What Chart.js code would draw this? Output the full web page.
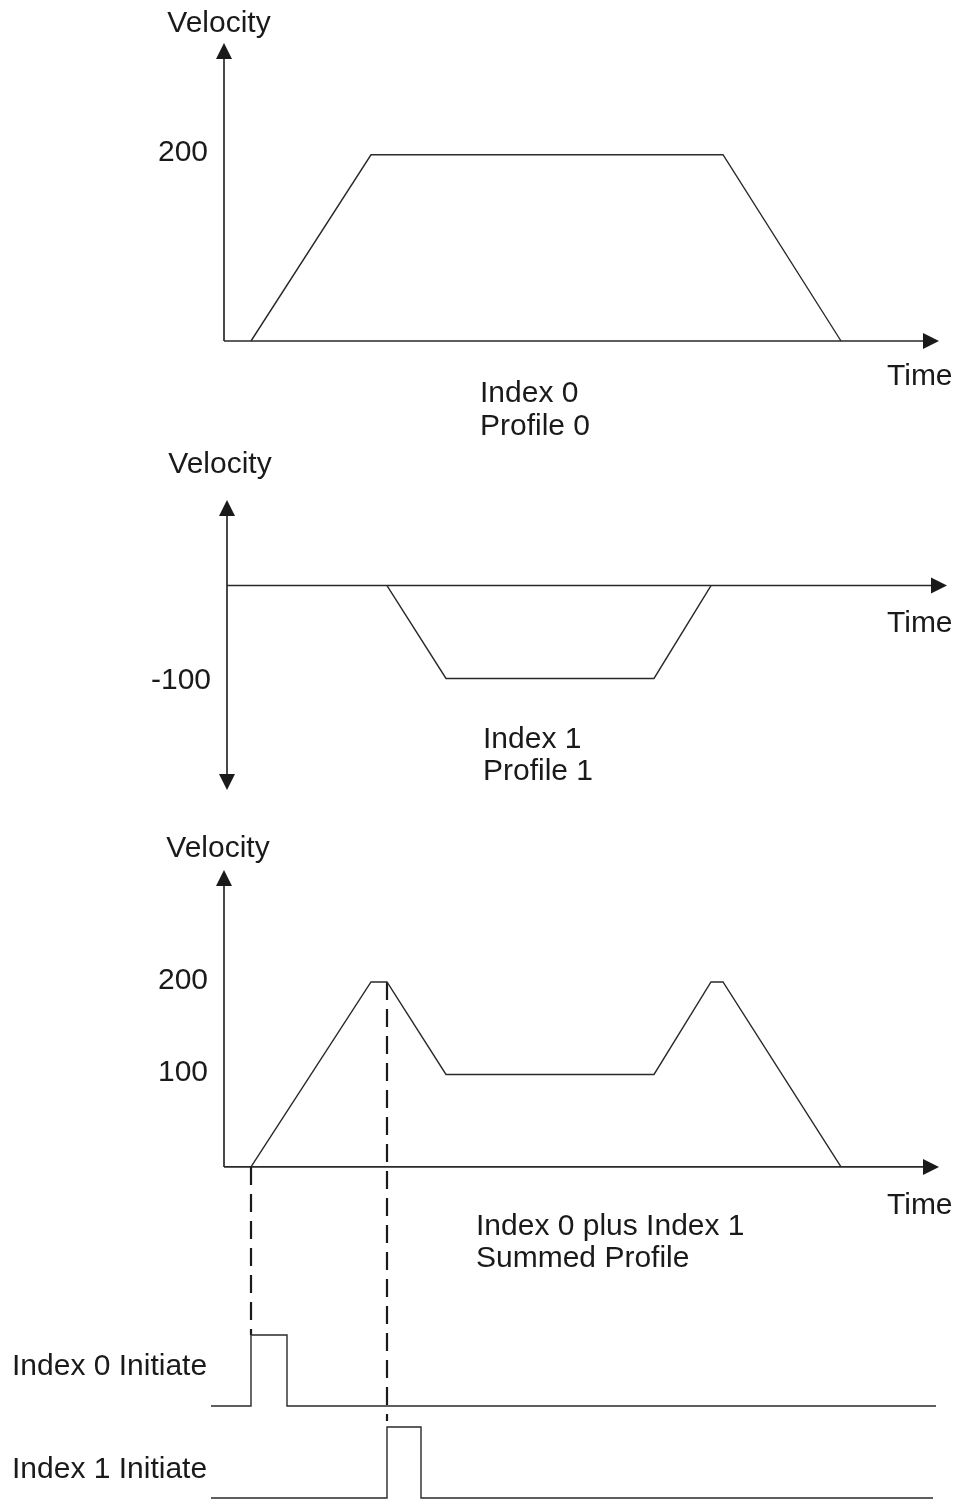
<!DOCTYPE html>
<html>
<head>
<meta charset="utf-8">
<title>Index profiles</title>
<script src="https://cdn.jsdelivr.net/npm/chart.js"></script>
<style>
  html, body { margin: 0; padding: 0; background: #fff; }
  body { position: relative; width: 960px; height: 1501px; overflow: hidden; }
  canvas { position: absolute; left: 0; }
</style>
</head>
<body>
<canvas id="profile0" width="960" height="445" style="top:0px"></canvas>
<canvas id="profile1" width="960" height="370" style="top:445px"></canvas>
<canvas id="summed" width="960" height="686" style="top:815px"></canvas>
<script>
// Index 0 / Profile 0 (time, velocity)
const profile0Time = [0, 120, 472, 590];
const profile0Vel = [0, 200, 200, 0];

// Index 1 / Profile 1
const profile1Time = [136, 195, 403, 460];
const profile1Vel = [0, -100, -100, 0];

// both indexes summed
const summedTime = [0, 120, 136, 195, 403, 460, 472, 590];
const summedVel = [0, 200, 200, 100, 100, 200, 200, 0];

// initiate inputs (stepped logic levels)
const initiate0Time = [-40, 0, 36, 685];
const initiate1Time = [-40, 136, 170, 682];
const initiateLevel = [0, 1, 0, 0];

// velocity tick labels per plot
const profile0Ticks = [200];
const profile1Ticks = [-100];
const summedTicks = [200, 100];

const FONT = '30px "Liberation Sans", Arial, Helvetica, sans-serif';
const INK = '#1a1a1a';
const LINE = '#2a2a2a';

function points(xs, ys) {
    return xs.map((x, i) => ({ x: x, y: ys[i] }));
}

function arrowHead(ctx, x, y, dir) {
    const len = 16, half = 8;
    ctx.beginPath();
    if (dir === 'up') {
        ctx.moveTo(x, y); ctx.lineTo(x - half, y + len); ctx.lineTo(x + half, y + len);
    } else if (dir === 'down') {
        ctx.moveTo(x, y); ctx.lineTo(x - half, y - len); ctx.lineTo(x + half, y - len);
    } else {
        ctx.moveTo(x, y); ctx.lineTo(x - len, y - half); ctx.lineTo(x - len, y + half);
    }
    ctx.closePath();
    ctx.fill();
}

// axes with arrowheads, guide lines, tick labels and captions
const diagramPlugin = {
    id: 'diagram',
    beforeDatasetsDraw(chart, args, opts) {
        const ctx = chart.ctx;
        const xs = chart.scales.x;
        const ys = chart.scales.y;
        const ox = xs.getPixelForValue(opts.axisFrom);
        const oy = ys.getPixelForValue(0);
        const endX = xs.getPixelForValue(opts.axisTo);
        const topY = ys.getPixelForValue(opts.axisTop);
        const botY = ys.getPixelForValue(opts.axisBottom);

        ctx.save();
        ctx.strokeStyle = LINE;
        ctx.fillStyle = INK;
        ctx.lineWidth = 1.7;
        ctx.beginPath();
        ctx.moveTo(ox, opts.bothWays ? botY - 15 : oy);
        ctx.lineTo(ox, topY + 15);
        ctx.moveTo(ox, oy);
        ctx.lineTo(endX - 15, oy);
        ctx.stroke();
        arrowHead(ctx, ox, topY, 'up');
        if (opts.bothWays) arrowHead(ctx, ox, botY, 'down');
        arrowHead(ctx, endX, oy, 'right');

        // dashed guides from the summed profile down to each initiate pulse
        (opts.guides || []).forEach(g => {
            const gx = xs.getPixelForValue(g.time);
            const v = summedVel[summedTime.indexOf(g.time)];
            const y1 = ys.getPixelForValue(v);
            const y2 = chart.scales[g.scale].getPixelForValue(1) - g.stop;
            ctx.setLineDash([18, 9]);
            ctx.lineWidth = 2.2;
            ctx.strokeStyle = INK;
            ctx.beginPath();
            ctx.moveTo(gx, y1);
            ctx.lineTo(gx, y2);
            ctx.stroke();
        });
        ctx.restore();
    },
    afterDatasetsDraw(chart, args, opts) {
        const ctx = chart.ctx;
        const xs = chart.scales.x;
        const ys = chart.scales.y;
        const ox = xs.getPixelForValue(opts.axisFrom);
        ctx.save();
        ctx.font = FONT;
        ctx.fillStyle = INK;
        ctx.textBaseline = 'alphabetic';
        ctx.textAlign = 'right';
        opts.ticks.forEach(t => {
            ctx.fillText(String(t), ox - 16, ys.getPixelForValue(t) + opts.tickOffset);
        });
        opts.labels.forEach(l => {
            ctx.textAlign = l.align || 'left';
            ctx.fillText(l.text, l.x, l.y);
        });
        ctx.restore();
    }
};

function lineSet(data, yAxisID, extra) {
    return Object.assign({
        data: data,
        yAxisID: yAxisID,
        borderColor: LINE,
        borderWidth: 1.4,
        pointRadius: 0,
        tension: 0,
        fill: false,
        clip: false
    }, extra || {});
}

function hidden(min, max) {
    return { type: 'linear', display: false, min: min, max: max };
}

function baseOptions(padding, scales, diagram) {
    return {
        responsive: false,
        animation: false,
        devicePixelRatio: 1,
        layout: { padding: padding },
        scales: Object.assign({ x: hidden(-40, 700) }, scales),
        plugins: {
            legend: { display: false },
            tooltip: { enabled: false },
            diagram: diagram
        }
    };
}

Chart.register(diagramPlugin);

new Chart(document.getElementById('profile0'), {
    type: 'line',
    data: { datasets: [lineSet(points(profile0Time, profile0Vel), 'y')] },
    options: baseOptions(
        { left: 211, right: 9, top: 43, bottom: 104 },
        { y: hidden(0, 320) },
        {
            axisFrom: -27, axisTo: 688, axisTop: 320, axisBottom: 0, bothWays: false,
            ticks: profile0Ticks, tickOffset: 6,
            labels: [
                { text: 'Velocity', x: 219, y: 32, align: 'center' },
                { text: 'Time', x: 887, y: 385 },
                { text: 'Index 0', x: 480, y: 402 },
                { text: 'Profile 0', x: 480, y: 435 }
            ]
        })
});

new Chart(document.getElementById('profile1'), {
    type: 'line',
    data: { datasets: [lineSet(points(profile1Time, profile1Vel), 'y')] },
    options: baseOptions(
        { left: 211, right: 9, top: 55, bottom: 25 },
        { y: hidden(-220, 92) },
        {
            axisFrom: -24, axisTo: 696, axisTop: 92, axisBottom: -220, bothWays: true,
            ticks: profile1Ticks, tickOffset: 11,
            labels: [
                { text: 'Velocity', x: 220, y: 28, align: 'center' },
                { text: 'Time', x: 887, y: 187 },
                { text: 'Index 1', x: 483, y: 303 },
                { text: 'Profile 1', x: 483, y: 335 }
            ]
        })
});

new Chart(document.getElementById('summed'), {
    type: 'line',
    data: {
        datasets: [
            lineSet(points(summedTime, summedVel), 'y'),
            lineSet(points(initiate0Time, initiateLevel), 's0', { stepped: 'before' }),
            lineSet(points(initiate1Time, initiateLevel), 's1', { stepped: 'before' })
        ]
    },
    options: baseOptions(
        { left: 211, right: 9, top: 55, bottom: 1 },
        {
            y: hidden(-360, 321),
            s0: hidden(-1.324, 7.55),
            s1: hidden(-0.028, 8.845)
        },
        {
            axisFrom: -27, axisTo: 688, axisTop: 321, axisBottom: 0, bothWays: false,
            ticks: summedTicks, tickOffset: 7,
            guides: [
                { time: initiate0Time[1], scale: 's0', stop: 0 },
                { time: initiate1Time[1], scale: 's1', stop: 6 }
            ],
            labels: [
                { text: 'Velocity', x: 218, y: 42, align: 'center' },
                { text: 'Time', x: 887, y: 399 },
                { text: 'Index 0 plus Index 1', x: 476, y: 420 },
                { text: 'Summed Profile', x: 476, y: 452 },
                { text: 'Index 0 Initiate', x: 12, y: 560 },
                { text: 'Index 1 Initiate', x: 12, y: 663 }
            ]
        })
});
</script>
</body>
</html>
